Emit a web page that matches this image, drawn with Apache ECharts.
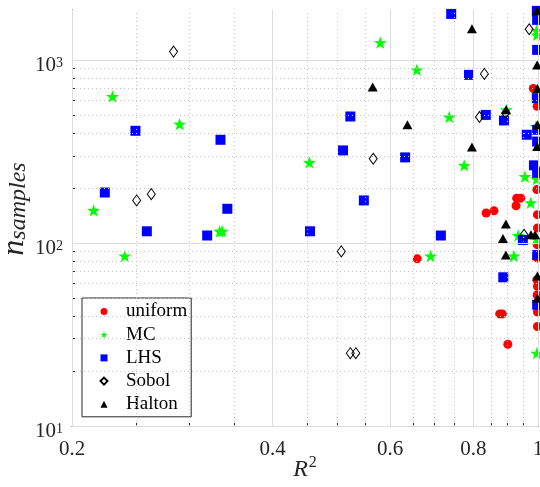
<!DOCTYPE html>
<html>
<head>
<meta charset="utf-8">
<script src="https://cdn.jsdelivr.net/npm/echarts@6/dist/echarts.min.js"></script>
<style>
  html, body { margin: 0; padding: 0; background: #ffffff; }
  #chart { width: 540px; height: 487px; }
</style>
</head>
<body>
<div id="chart"></div>
<script>
// Each point is [R^2, n_samples]
const uniform = [
  [0.659, 82], [0.836, 146], [0.859, 150], [0.929, 176], [0.942, 176], [0.927, 160],
  [0.876, 41], [0.884, 41], [0.901, 28], [0.984, 700],
  [0.997, 560], [0.998, 250], [0.996, 196], [0.998, 143], [0.998, 121], [0.997, 98],
  [0.997, 83], [0.996, 63], [0.998, 58], [0.997, 52], [0.998, 42], [0.998, 35]
];
const mc = [
  [0.2155, 151], [0.230, 633], [0.240, 85], [0.290, 447], [0.333, 116], [0.336, 116],
  [0.454, 276], [0.580, 1247], [0.658, 885], [0.690, 85], [0.736, 489], [0.775, 266],
  [0.896, 536], [0.920, 85], [0.934, 110], [0.956, 231], [0.975, 166],
  [0.995, 1452], [0.996, 1374], [0.993, 434], [0.995, 224], [0.996, 105], [0.996, 25]
];
const lhs = [
  [0.224, 189], [0.249, 411], [0.259, 116], [0.319, 110], [0.334, 367], [0.342, 154],
  [0.455, 116], [0.510, 321], [0.523, 492], [0.548, 171], [0.632, 294], [0.715, 110],
  [0.741, 1790], [0.788, 831], [0.835, 502], [0.887, 65], [0.889, 468], [0.949, 104],
  [0.962, 391], [0.986, 266],
  [0.996, 1860], [0.997, 1660], [0.997, 1138], [0.996, 620], [0.997, 416], [0.997, 359],
  [0.997, 242], [0.997, 86], [0.997, 46]
];
const sobol = [
  [0.250, 171], [0.263, 185], [0.284, 1114], [0.507, 90], [0.523, 25], [0.533, 25],
  [0.566, 289], [0.817, 489], [0.831, 841], [0.894, 514], [0.953, 111], [0.970, 1476]
];
const halton = [
  [0.565, 713], [0.637, 443], [0.796, 1483], [0.796, 335], [0.886, 106], [0.895, 127],
  [0.895, 86], [0.896, 536], [0.976, 111], [0.990, 111],
  [0.996, 1860], [0.997, 942], [0.998, 700], [0.998, 444], [0.997, 337], [0.998, 66], [0.998, 50]
];

// Axis ticks
const xMajorTicks = [0.2, 0.4, 0.6, 0.8, 1];
const xMinorTicks = [0.25, 0.3, 0.35, 0.45, 0.5, 0.55, 0.65, 0.7, 0.75, 0.85, 0.9, 0.95];
const yMajorTicks = [10, 100, 1000];
const yMinorTicks = [20, 30, 40, 50, 60, 70, 80, 90, 200, 300, 400, 500, 600, 700, 800, 900];

const xRange = [0.2, 1];
const yRange = [10, 1880];

const SERIF = "'Liberation Serif', 'DejaVu Serif', serif";
const AXIS_COLOR = '#262626';
const STAR = 'path://M0,-10L2.35,-3.24L9.51,-3.09L3.8,1.24L5.88,8.09L0,4L-5.88,8.09L-3.8,1.24L-9.51,-3.09L-2.35,-3.24Z';

const chart = echarts.init(document.getElementById('chart'), null, { renderer: 'canvas' });

function gridLines(axis, values, solid) {
  return values.map(v => ({
    [axis]: v,
    lineStyle: solid
      ? { color: '#dcdcdc', width: 1, type: 'solid' }
      : { color: '#c4c4c4', width: 1, type: [1, 3] }
  }));
}

const baseX = {
  type: 'log', logBase: 10, min: xRange[0], max: xRange[1],
  position: 'bottom', splitLine: { show: false }, minorTick: { show: false }
};
const baseY = {
  type: 'log', logBase: 10, min: yRange[0], max: yRange[1],
  position: 'left', splitLine: { show: false }, minorTick: { show: false }
};

const option = {
  backgroundColor: '#ffffff',
  animation: false,
  grid: { left: 72, right: 2, top: 10, bottom: 61, outerBoundsMode: 'none', containLabel: false },
  legend: {
    orient: 'vertical',
    left: 82, top: 298,
    backgroundColor: '#ffffff',
    borderColor: AXIS_COLOR, borderWidth: 1,
    padding: [4, 4, 3, 17.5],
    itemWidth: 7, itemHeight: 7, itemGap: 4.2,
    textStyle: { fontFamily: SERIF, fontSize: 19, lineHeight: 19, color: '#000', padding: [0, 0, 0, 13.5] },
    data: ['uniform', 'MC', 'LHS', 'Sobol', 'Halton']
  },
  xAxis: [
    Object.assign({}, baseX, {
      axisLine: { show: true, lineStyle: { color: AXIS_COLOR, width: 1 } },
      axisTick: { show: true, inside: true, length: 5, customValues: xMajorTicks, lineStyle: { color: AXIS_COLOR } },
      axisLabel: {
        show: true, customValues: xMajorTicks, margin: 13,
        fontFamily: SERIF, fontSize: 21, color: AXIS_COLOR,
        formatter: v => String(+(+v).toFixed(2))
      },
      name: '{i|R}{s|2}',
      nameLocation: 'middle', nameGap: 29, nameMoveOverlap: false,
      nameTextStyle: {
        rich: {
          i: { fontFamily: SERIF, fontStyle: 'italic', fontSize: 24, lineHeight: 24, color: AXIS_COLOR, padding: [6, 0, 0, 0] },
          s: { fontFamily: SERIF, fontSize: 16, lineHeight: 16, color: AXIS_COLOR, verticalAlign: 'top', padding: [0, 0, 0, 1] }
        }
      }
    }),
    Object.assign({}, baseX, {
      axisLine: { show: false },
      axisTick: { show: true, inside: true, length: 3, customValues: xMinorTicks, lineStyle: { color: AXIS_COLOR } },
      axisLabel: { show: false }
    })
  ],
  yAxis: [
    Object.assign({}, baseY, {
      axisLine: { show: true, lineStyle: { color: AXIS_COLOR, width: 1 } },
      axisTick: { show: true, inside: true, length: 5, customValues: yMajorTicks, lineStyle: { color: AXIS_COLOR } },
      axisLabel: {
        show: true, customValues: yMajorTicks, margin: 9,
        formatter: v => '{b|10}{s|' + Math.round(Math.log10(v)) + '}',
        rich: {
          b: { fontFamily: SERIF, fontSize: 21, lineHeight: 20, color: AXIS_COLOR, padding: [10, 0, 0, 0] },
          s: { fontFamily: SERIF, fontSize: 14, lineHeight: 14, color: AXIS_COLOR, verticalAlign: 'top', padding: [6, 0, 0, 0] }
        }
      },
      name: '{i|n}{s|samples}',
      nameLocation: 'middle', nameGap: 41, nameRotate: 90, nameMoveOverlap: false,
      nameTextStyle: {
        padding: [0, 0, 0, 18],
        rich: {
          i: { fontFamily: SERIF, fontStyle: 'italic', fontSize: 32, lineHeight: 32, color: AXIS_COLOR },
          s: { fontFamily: SERIF, fontStyle: 'italic', fontSize: 24, lineHeight: 24, color: AXIS_COLOR, verticalAlign: 'bottom' }
        }
      }
    }),
    Object.assign({}, baseY, {
      axisLine: { show: false },
      axisTick: { show: true, inside: true, length: 3, customValues: yMinorTicks, lineStyle: { color: AXIS_COLOR } },
      axisLabel: { show: false }
    })
  ],
  series: [
    {
      name: 'grid', type: 'scatter', data: [], silent: true, z: 0,
      markLine: {
        silent: true, symbol: ['none', 'none'], label: { show: false }, animation: false,
        data: [].concat(
          gridLines('xAxis', xMinorTicks, false),
          gridLines('yAxis', yMinorTicks, false),
          gridLines('xAxis', xMajorTicks, true),
          gridLines('yAxis', yMajorTicks, true)
        )
      }
    },
    {
      name: 'uniform', type: 'scatter', data: uniform, z: 2,
      symbol: 'circle', symbolSize: 9,
      itemStyle: { color: '#ff0000', opacity: 1 }
    },
    {
      name: 'MC', type: 'scatter', data: mc, z: 3,
      symbol: STAR, symbolSize: 13, symbolKeepAspect: true,
      itemStyle: { color: '#00ff00', opacity: 1 }
    },
    {
      name: 'LHS', type: 'scatter', data: lhs, z: 4,
      symbol: 'rect', symbolSize: 10,
      itemStyle: { color: '#0000ff', opacity: 1 }
    },
    {
      name: 'Sobol', type: 'scatter', data: sobol, z: 5,
      symbol: 'diamond', symbolSize: [8, 11],
      itemStyle: { color: 'rgba(255,255,255,0)', borderColor: '#000000', borderWidth: 1, opacity: 1 }
    },
    {
      name: 'Halton', type: 'scatter', data: halton, z: 6,
      symbol: 'triangle', symbolSize: [10, 9],
      itemStyle: { color: '#000000', opacity: 1 }
    }
  ]
};

chart.setOption(option);
</script>
</body>
</html>
